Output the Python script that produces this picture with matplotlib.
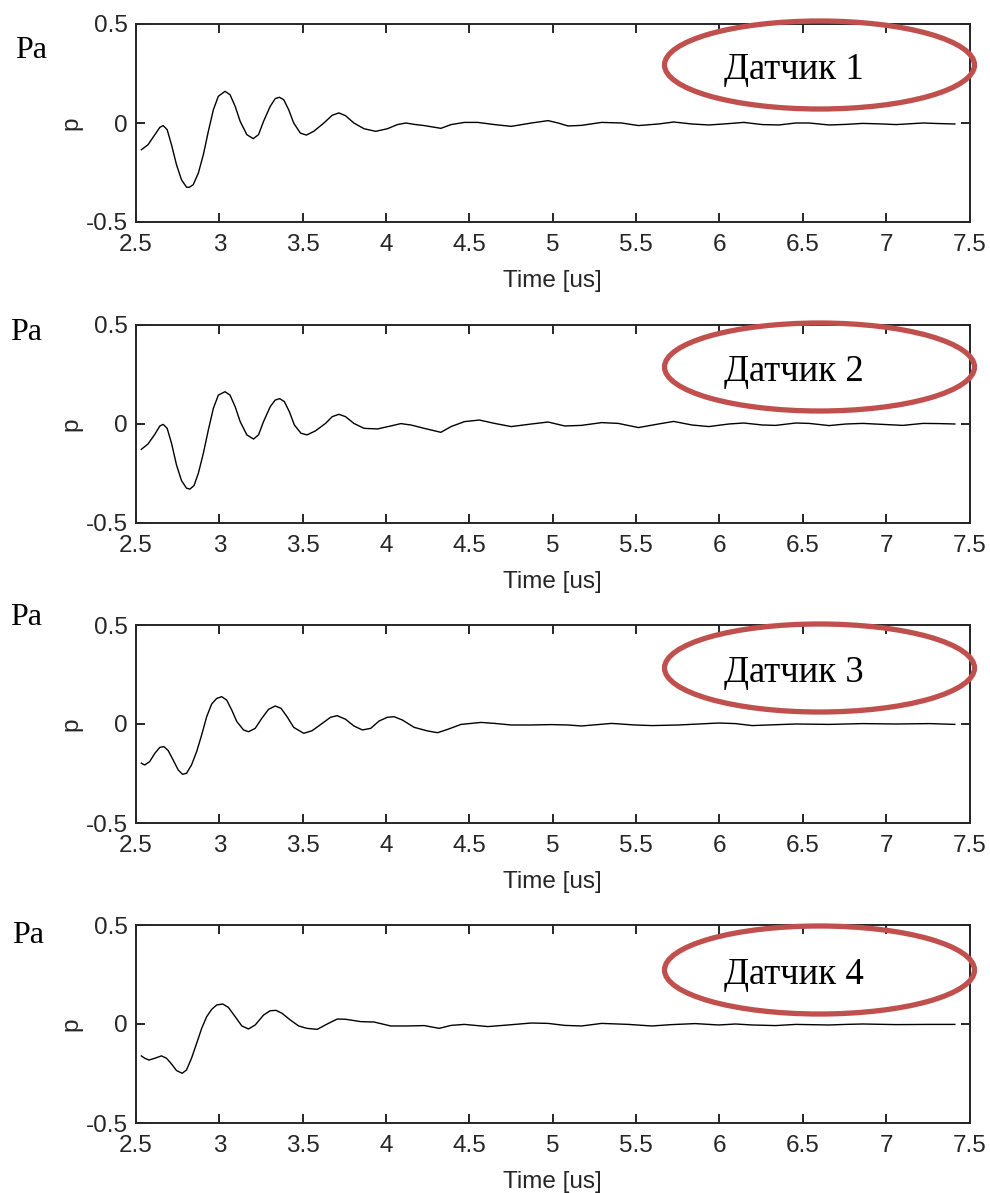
import matplotlib
matplotlib.use("Agg")
import matplotlib.pyplot as plt
from matplotlib.patches import Ellipse
from matplotlib.ticker import FuncFormatter, FixedLocator

plt.rcParams['axes.unicode_minus'] = False

# ---------------- data ----------------
t1 = [2.532, 2.572, 2.613, 2.643, 2.663, 2.687, 2.713, 2.743, 2.773, 2.803, 2.819, 2.843, 2.874, 2.904,
      2.934, 2.964, 2.994, 3.034, 3.064, 3.095, 3.125, 3.165, 3.203, 3.235, 3.265, 3.305, 3.335, 3.360,
      3.386, 3.416, 3.446, 3.486, 3.522, 3.566, 3.627, 3.677, 3.717, 3.757, 3.807, 3.868, 3.938, 4.008,
      4.068, 4.119, 4.169, 4.229, 4.329, 4.390, 4.470, 4.550, 4.651, 4.751, 4.872, 4.972, 5.032, 5.092,
      5.172, 5.293, 5.413, 5.514, 5.634, 5.725, 5.835, 5.936, 6.056, 6.146, 6.257, 6.357, 6.458, 6.538,
      6.658, 6.759, 6.859, 6.980, 7.060, 7.221, 7.321, 7.412]
p1 = [-0.135, -0.110, -0.059, -0.022, -0.013, -0.034, -0.110, -0.211, -0.287, -0.324, -0.325, -0.312,
      -0.253, -0.160, -0.042, 0.067, 0.135, 0.160, 0.143, 0.084, 0.008, -0.059, -0.079, -0.059, 0.008,
      0.084, 0.123, 0.130, 0.118, 0.067, 0.000, -0.051, -0.061, -0.042, 0.000, 0.039, 0.051, 0.037, 0.000,
      -0.029, -0.042, -0.029, -0.008, 0.000, -0.007, -0.013, -0.027, -0.008, 0.003, 0.003, -0.008, -0.017,
      0.000, 0.012, 0.000, -0.015,
      -0.012, 0.003, 0.000, -0.013, -0.005, 0.005, -0.005, -0.010, -0.003, 0.003, -0.008, -0.010, 0.000,
      0.000, -0.010, -0.007, -0.002, -0.005, -0.008, 0.000, -0.003, -0.005]

t2 = [2.532, 2.572, 2.613, 2.643, 2.663, 2.687, 2.713, 2.743, 2.773, 2.803, 2.823, 2.848, 2.874, 2.904,
      2.934, 2.964, 2.994, 3.034, 3.064, 3.095, 3.125, 3.165, 3.205, 3.235, 3.265, 3.305, 3.335, 3.362,
      3.390, 3.420, 3.450, 3.490, 3.526, 3.576, 3.637, 3.677, 3.717, 3.757, 3.807, 3.868, 3.948, 4.028,
      4.089, 4.149, 4.229, 4.329, 4.390, 4.470, 4.560, 4.651, 4.751, 4.872, 4.972, 5.072,
      5.172, 5.293, 5.393, 5.514, 5.634, 5.725, 5.835, 5.936, 6.056, 6.146, 6.257, 6.337, 6.458, 6.538,
      6.658, 6.759, 6.859, 6.980, 7.100, 7.221, 7.321, 7.412]
p2 = [-0.128, -0.101, -0.052, -0.010, -0.002, -0.022, -0.097, -0.207, -0.286, -0.324, -0.329, -0.311,
      -0.249, -0.148, -0.030, 0.079, 0.146, 0.163, 0.146, 0.087, 0.012, -0.055, -0.076, -0.055, 0.012,
      0.087, 0.121, 0.128, 0.113, 0.062, -0.005, -0.047, -0.055, -0.035, 0.003, 0.037, 0.049, 0.037,
      0.003, -0.022, -0.025, -0.010, 0.002, -0.005, -0.022, -0.042, -0.013, 0.012, 0.020, 0.003, -0.013,
      0.000, 0.010, -0.010,
      -0.007, 0.007, 0.003, -0.018, 0.000, 0.013, -0.005, -0.013, 0.000, 0.005, -0.005, -0.007, 0.005,
      0.003, -0.008, 0.000, 0.003, -0.002, -0.007, 0.003, 0.002, 0.000]

t3 = [2.532, 2.552, 2.582, 2.613, 2.643, 2.667, 2.693, 2.723, 2.753, 2.779, 2.803, 2.833, 2.864, 2.894,
      2.924, 2.954, 2.984, 3.014, 3.044, 3.074, 3.105, 3.145, 3.175, 3.215, 3.255, 3.295, 3.335, 3.370,
      3.406, 3.446, 3.506, 3.556, 3.617, 3.667, 3.707, 3.757, 3.807, 3.858, 3.908, 3.958, 4.008, 4.048,
      4.098, 4.169, 4.249, 4.309, 4.370, 4.450, 4.570, 4.651, 4.751, 4.872, 4.992, 5.092,
      5.172, 5.353, 5.494, 5.594, 5.755, 5.996, 6.096, 6.197, 6.357, 6.458, 6.658, 6.859, 7.060, 7.261,
      7.412]
p3 = [-0.198, -0.207, -0.190, -0.148, -0.118, -0.114, -0.134, -0.182, -0.232, -0.254, -0.249, -0.207,
      -0.139, -0.055, 0.037, 0.101, 0.129, 0.138, 0.121, 0.071, 0.012, -0.030, -0.039, -0.022, 0.029,
      0.074, 0.091, 0.079, 0.037, -0.017, -0.047, -0.034, 0.003, 0.034, 0.042, 0.024, -0.010, -0.030,
      -0.022, 0.015, 0.034, 0.037, 0.020, -0.017, -0.035, -0.044, -0.027, -0.002, 0.008, 0.003, -0.005,
      -0.005, -0.003, -0.005,
      -0.010, 0.003, -0.005, -0.008, -0.005, 0.005, 0.002, -0.008, -0.003, 0.000, -0.002, 0.002, 0.000,
      0.002, -0.002]

t4 = [2.532, 2.552, 2.578, 2.613, 2.653, 2.683, 2.713, 2.743, 2.777, 2.803, 2.833, 2.864, 2.894, 2.924,
      2.954, 2.984, 3.020, 3.054, 3.095, 3.135, 3.175, 3.215, 3.265, 3.305, 3.340, 3.376, 3.426, 3.476,
      3.526, 3.587, 3.647, 3.707, 3.757, 3.848, 3.928, 4.028, 4.129, 4.229, 4.319, 4.390, 4.470, 4.611,
      4.731, 4.872, 4.972, 5.072, 5.173,
      5.293, 5.454, 5.594, 5.715, 5.855, 5.996, 6.096, 6.197, 6.337, 6.458, 6.658, 6.759, 6.859, 7.060,
      7.261, 7.412]
p4 = [-0.161, -0.173, -0.182, -0.173, -0.161, -0.173, -0.202, -0.235, -0.249, -0.232, -0.173, -0.097,
      -0.022, 0.037, 0.074, 0.096, 0.101, 0.084, 0.037, -0.010, -0.025, -0.005, 0.045, 0.067, 0.069,
      0.054, 0.020, -0.010, -0.022, -0.027, 0.000, 0.025, 0.024, 0.012, 0.010, -0.010, -0.010, -0.008,
      -0.022, -0.007, -0.002, -0.013, -0.005, 0.005, 0.003, -0.007, -0.010,
      0.003, -0.002, -0.010, -0.003, 0.002, -0.005, 0.000, -0.005, -0.008, -0.002, -0.005, -0.002, 0.000,
      -0.003, -0.002, -0.002]

times = [t1, t2, t3, t4]
pressures = [p1, p2, p3, p4]
sensor_labels = ["Датчик 1", "Датчик 2", "Датчик 3", "Датчик 4"]
unit_label = "Pa"
x_ticks = [2.5, 3, 3.5, 4, 4.5, 5, 5.5, 6, 6.5, 7, 7.5]
y_ticks = [-0.5, 0, 0.5]
x_label = "Time [us]"
y_label = "p"

# ---------------- layout ----------------
W, H = 990, 1193
fig = plt.figure(figsize=(W / 100, H / 100), dpi=100)

ax_left, ax_right = 136, 969.5
ax_tops = [24, 325, 625, 925]
ax_h = 198
ell_cy = [65, 367, 668, 970]
txt_base = [79, 381, 682, 984]
pa_pos = [(15, 58), (10, 340), (10, 625), (12, 943)]

tick_font = ['Liberation Sans Narrow', 'Liberation Sans', 'DejaVu Sans']
axis_col = '#262626'
red = '#C0504D'

fmt = FuncFormatter(lambda v, pos: ('%g' % v))

for i in range(4):
    top = ax_tops[i]
    ax = fig.add_axes([ax_left / W, 1 - (top + ax_h) / H, (ax_right - ax_left) / W, ax_h / H])
    ax.plot(times[i], pressures[i], color='black', lw=1.0, solid_joinstyle='round')
    ax.set_xlim(2.5, 7.5)
    ax.set_ylim(-0.5, 0.5)
    ax.xaxis.set_major_locator(FixedLocator(x_ticks))
    ax.yaxis.set_major_locator(FixedLocator(y_ticks))
    ax.xaxis.set_major_formatter(fmt)
    ax.yaxis.set_major_formatter(fmt)
    for s in ax.spines.values():
        s.set_color(axis_col)
        s.set_linewidth(1.4)
    ax.tick_params(direction='in', length=6.5, width=1.4, color=axis_col,
                   top=True, right=True, labelsize=17.5, labelcolor=axis_col)
    ax.tick_params(axis='x', pad=8.5)
    ax.tick_params(axis='y', pad=6)
    for lab in ax.get_xticklabels() + ax.get_yticklabels():
        lab.set_family(tick_font)
    ax.set_xlabel(x_label, fontsize=17.5, family=tick_font, color=axis_col, labelpad=10.5)
    ax.set_ylabel(y_label, fontsize=17.5, family=tick_font, color=axis_col, labelpad=2)

    # annotation ellipse and sensor name
    e = Ellipse((819.5 / W, 1 - ell_cy[i] / H), 310 / W, 88 / H, transform=fig.transFigure,
                fill=False, edgecolor=red, lw=3.8, clip_on=False, zorder=10)
    fig.add_artist(e)
    fig.text(794 / W, 1 - txt_base[i] / H, sensor_labels[i], ha='center', va='baseline',
             fontsize=26.5, family=['Liberation Serif', 'DejaVu Serif'], color='black')
    fig.text(pa_pos[i][0] / W, 1 - pa_pos[i][1] / H, unit_label, ha='left', va='baseline',
             fontsize=23, family=['Liberation Serif', 'DejaVu Serif'], color='black')

fig.savefig('out.png', dpi=100, facecolor='white')
